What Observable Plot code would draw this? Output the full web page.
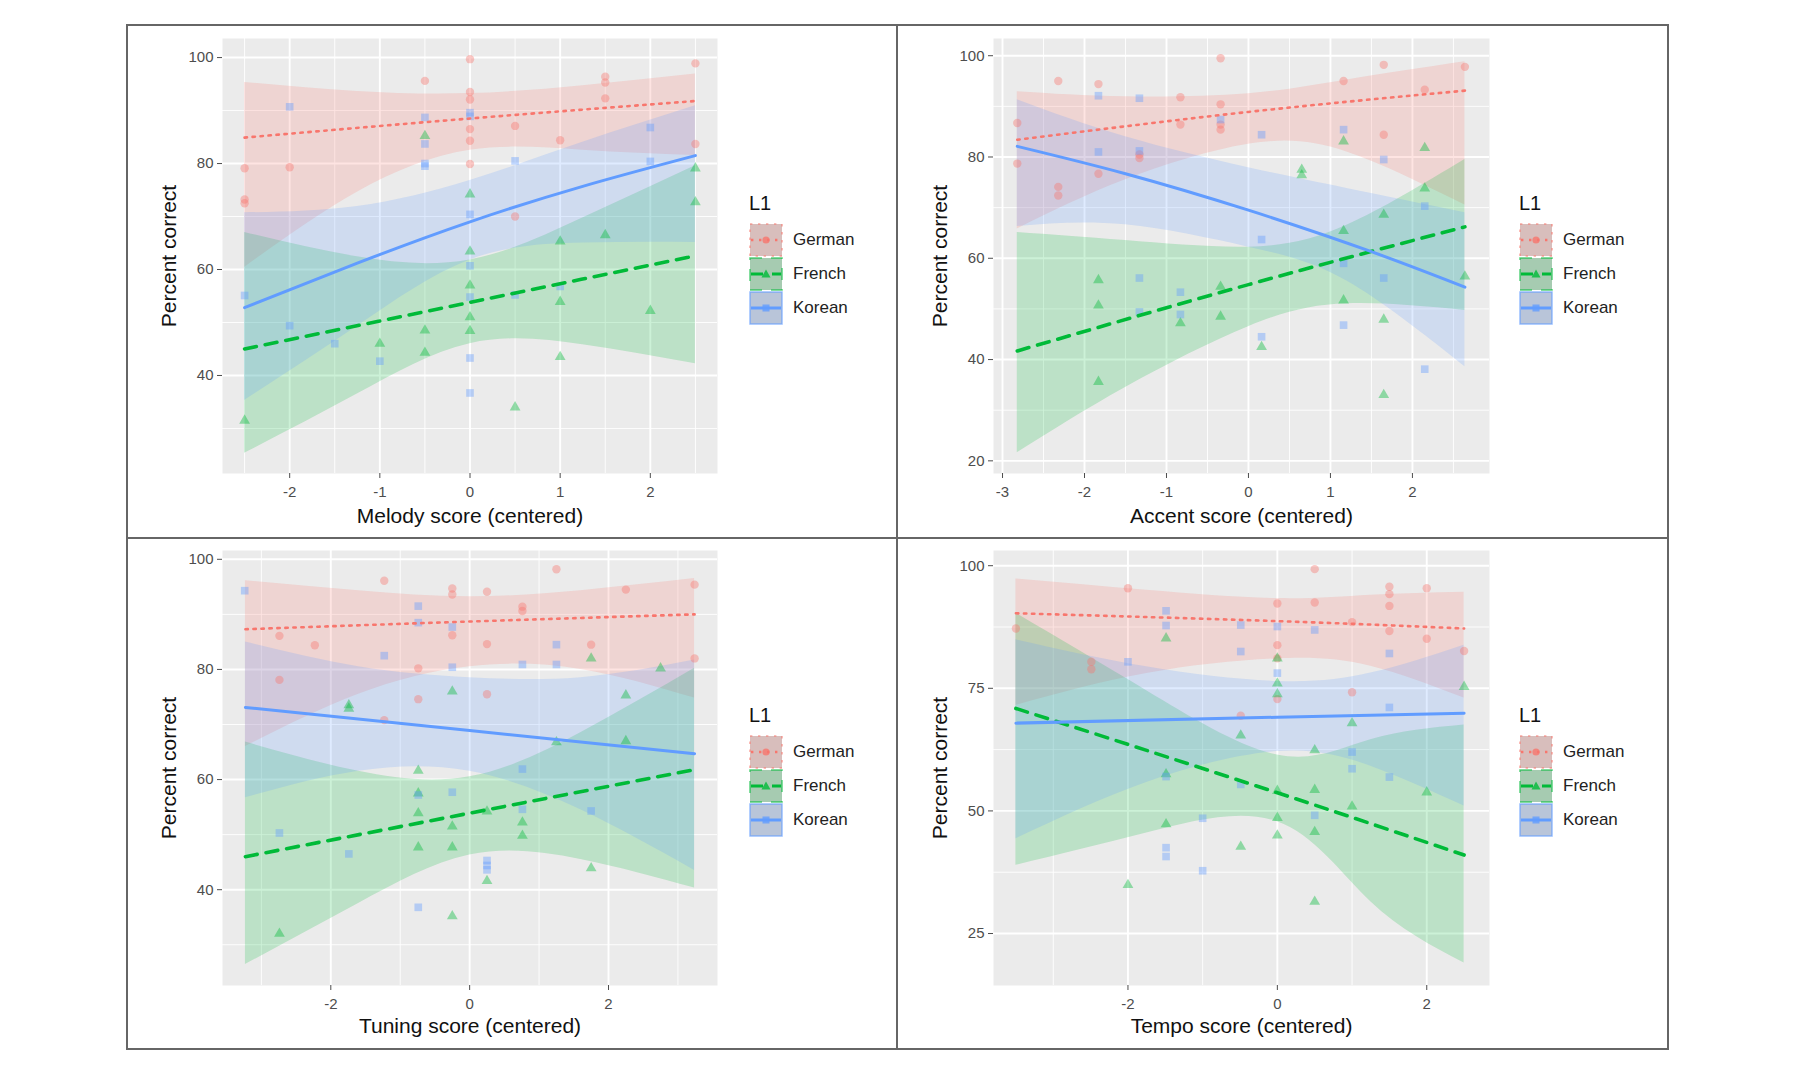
<!DOCTYPE html>
<html><head><meta charset="utf-8">
<script src="https://cdn.jsdelivr.net/npm/d3@7"></script>
<script src="https://cdn.jsdelivr.net/npm/@observablehq/plot@0.6"></script>
<style>
html,body{margin:0;padding:0;background:#fff;}
#page{position:relative;width:1800px;height:1071px;overflow:hidden;font-family:"Liberation Sans",Arial,Helvetica,sans-serif;}
.panel{position:absolute;}
.rule{position:absolute;background:#666;}
.legend{position:absolute;font-family:"Liberation Sans",Arial,Helvetica,sans-serif;}
</style></head><body><div id="page"></div>
<script>
// ---------- categories / styles ----------
const GROUPS = ["German", "French", "Korean"];
const COLORS = {German: "#F8766D", French: "#00BA38", Korean: "#619CFF"};
const SYMBOLS = {German: "circle", French: "triangle", Korean: "square"};

// ---------- Melody panel ----------
const melodyGermanPts = [[-2.5,79.1],[-2.5,73.2],[-2.5,72.5],[-2,79.3],[-0.5,95.6],[0,99.7],[0,93.5],[0,92.1],[0,86.5],[0,84.3],[0,79.9],[0.5,87.1],[0.5,70.0],[1,84.4],[1.5,96.4],[1.5,95.3],[1.5,92.3],[2.5,98.9],[2.5,83.7]];
const melodyKoreanPts = [[-2.5,55.1],[-2,90.7],[-2,49.4],[-1.5,46.0],[-1,42.7],[-0.5,88.7],[-0.5,83.7],[-0.5,80.0],[-0.5,79.5],[0,89.6],[0,88.9],[0,70.4],[0,60.7],[0,54.8],[0,43.3],[0,36.7],[0.5,80.5],[0.5,55.2],[1,56.8],[2,86.8],[2,80.4]];
const melodyFrenchPts = [[-2.5,31.5],[-1,46.0],[-0.5,85.2],[-0.5,48.5],[-0.5,44.3],[0,74.2],[0,63.4],[0,57.0],[0,51.0],[0,48.4],[0.5,34.0],[1,65.3],[1,53.9],[1,43.5],[1.5,66.5],[2,52.2],[2.5,79.1],[2.5,72.7]];
const melodyGermanLine = [[-2.5,84.9],[0,88.5],[2.5,91.8]];
const melodyFrenchLine = [[-2.5,45.0],[0,53.8],[2.5,62.6]];
const melodyKoreanLine = [[-2.5,52.8],[-1.25,61.2],[0,69.0],[1.25,75.7],[2.5,81.5]];
const melodyGermanBand = [[-2.5,60.4,95.3],[-1.25,74.6,93.6],[0,82.5,93.2],[1.25,82.5,94.7],[2.5,81.5,96.9]];
const melodyFrenchBand = [[-2.5,25.3,67.0],[-1.25,36.5,62.4],[0,46.0,61.8],[1.25,45.8,69.7],[2.5,42.2,79.6]];
const melodyKoreanBand = [[-2.5,35.3,70.7],[-1.25,49.3,71.9],[0,61.8,76.8],[1.25,65.0,84.0],[2.5,65.1,90.9]];
const melodyXTicks = [-2,-1,0,1,2];
const melodyXMinor = [-2.5,-1.5,-0.5,0.5,1.5,2.5];
const melodyYTicks = [40,60,80,100];
const melodyYMinor = [30,50,70,90];

// ---------- Accent panel ----------
const accentGermanPts = [[-2.82,86.7],[-2.82,78.7],[-2.32,95.0],[-2.32,74.1],[-2.32,72.4],[-1.83,94.4],[-1.83,76.7],[-1.33,80.5],[-1.33,79.8],[-0.83,91.8],[-0.83,86.4],[-0.34,99.5],[-0.34,90.4],[-0.34,86.4],[-0.34,85.4],[1.16,95.0],[1.65,98.2],[1.65,84.4],[2.15,93.3],[2.64,97.8]];
const accentKoreanPts = [[-1.83,92.1],[-1.83,81.0],[-1.33,91.6],[-1.33,81.2],[-1.33,56.1],[-1.33,49.4],[-0.83,53.3],[-0.83,48.9],[-0.34,87.4],[0.16,84.4],[0.16,63.7],[0.16,44.5],[1.16,85.4],[1.16,59.0],[1.16,46.8],[1.65,79.5],[1.65,56.1],[2.15,70.3],[2.15,38.1]];
const accentFrenchPts = [[-1.83,55.7],[-1.83,50.7],[-1.83,35.6],[-0.83,47.2],[-0.34,54.4],[-0.34,48.5],[0.16,42.5],[0.65,77.5],[0.65,76.4],[1.16,83.1],[1.16,65.4],[1.16,51.7],[1.65,68.6],[1.65,47.9],[1.65,33.0],[2.15,81.8],[2.15,73.8],[2.64,56.4]];
const accentGermanLine = [[-2.82,83.4],[0,88.9],[2.64,93.1]];
const accentFrenchLine = [[-2.82,41.7],[0,54.8],[2.64,66.2]];
const accentKoreanLine = [[-2.82,82.1],[-1.5,76.7],[0,69.5],[1.5,61.3],[2.64,54.3]];
const accentGermanBand = [[-2.82,65.8,92.9],[-1.5,75.5,91.9],[0,82.5,92.5],[1.2,81.0,95.2],[2.64,70.5,98.8]];
const accentFrenchBand = [[-2.82,21.6,65.1],[-1.5,34.5,63.5],[0,46.5,62.2],[1.2,51.0,66.5],[2.64,49.7,79.5]];
const accentKoreanBand = [[-2.82,66.3,91.3],[-1.5,66.6,84.0],[0,62.2,77.9],[1.2,55.5,73.8],[2.64,38.6,69.0]];
const accentXTicks = [-3,-2,-1,0,1,2];
const accentXMinor = [-2.5,-1.5,-0.5,0.5,1.5,2.5];
const accentYTicks = [20,40,60,80,100];
const accentYMinor = [30,50,70,90];

// ---------- Tuning panel ----------
const tuningGermanPts = [[-2.74,86.1],[-2.74,78.1],[-2.23,84.4],[-1.23,96.1],[-1.23,70.8],[-0.74,80.2],[-0.74,74.6],[-0.25,94.7],[-0.25,93.6],[-0.25,86.2],[0.25,94.1],[0.25,84.6],[0.25,75.5],[0.76,91.4],[0.76,90.6],[1.25,98.2],[1.75,84.5],[2.25,94.5],[3.24,95.4],[3.24,82.0]];
const tuningKoreanPts = [[-3.24,94.3],[-2.74,50.3],[-1.74,46.5],[-1.23,82.5],[-0.74,91.5],[-0.74,88.5],[-0.74,57.2],[-0.74,36.8],[-0.25,87.7],[-0.25,80.4],[-0.25,57.7],[0.25,45.3],[0.25,44.4],[0.25,43.6],[0.76,80.9],[0.76,61.9],[0.76,54.6],[1.25,84.5],[1.25,80.9],[1.75,54.3]];
const tuningFrenchPts = [[-2.74,32.0],[-1.74,73.5],[-1.74,72.9],[-0.74,61.6],[-0.74,57.5],[-0.74,53.9],[-0.74,47.7],[-0.25,76.0],[-0.25,51.5],[-0.25,47.7],[-0.25,35.2],[0.25,54.2],[0.25,41.6],[0.76,52.2],[0.76,49.8],[1.25,66.8],[1.75,82.0],[1.75,43.9],[2.25,75.3],[2.25,67.0],[2.75,80.2]];
const tuningGermanLine = [[-3.23,87.3],[0,88.7],[3.24,90.0]];
const tuningFrenchLine = [[-3.23,46.0],[0,53.9],[3.24,61.8]];
const tuningKoreanLine = [[-3.23,73.1],[0,68.9],[3.24,64.7]];
const tuningGermanBand = [[-3.23,66.0,96.1],[-1.6,75.5,94.3],[0,80.5,93.2],[1.6,80.0,94.3],[3.24,74.8,96.5]];
const tuningFrenchBand = [[-3.23,26.4,66.8],[-1.6,37.5,61.5],[0,46.3,60.5],[1.6,45.5,68.5],[3.24,40.3,80.2]];
const tuningKoreanBand = [[-3.23,56.7,85.0],[-1.6,61.5,80.5],[0,61.5,78.5],[1.6,54.5,78.5],[3.24,43.5,81.7]];
const tuningXTicks = [-2,0,2];
const tuningXMinor = [-3,-1,1,3];
const tuningYTicks = [40,60,80,100];
const tuningYMinor = [30,50,70,90];

// ---------- Tempo panel ----------
const tempoGermanPts = [[-3.5,87.2],[-2.49,80.4],[-2.49,78.9],[-2,95.4],[-0.49,69.4],[0,92.3],[0,83.8],[0,81.1],[0,72.8],[0.5,99.3],[0.5,92.5],[1,88.5],[1,74.2],[1.5,95.7],[1.5,94.2],[1.5,91.8],[1.5,86.7],[2,95.4],[2,85.1],[2.5,82.6]];
const tempoKoreanPts = [[-2,80.4],[-1.49,90.8],[-1.49,87.8],[-1.49,57.0],[-1.49,42.5],[-1.49,40.7],[-1,48.5],[-1,37.8],[-0.49,87.9],[-0.49,82.5],[-0.49,55.4],[0,87.6],[0,78.1],[0.5,86.9],[0.5,49.1],[1,62.0],[1,58.6],[1.5,82.1],[1.5,71.1],[1.5,56.9]];
const tempoFrenchPts = [[-2,34.9],[-1.49,85.2],[-1.49,57.5],[-1.49,47.3],[-0.49,65.4],[-0.49,42.7],[0,81.1],[0,76.0],[0,73.8],[0,54.1],[0,48.6],[0,45.0],[0.5,62.4],[0.5,54.3],[0.5,45.7],[0.5,31.5],[1,67.9],[1,50.9],[2,53.8],[2.5,75.3]];
const tempoGermanLine = [[-3.5,90.3],[0,88.7],[2.5,87.2]];
const tempoFrenchLine = [[-3.5,70.9],[0,53.7],[2.5,41.0]];
const tempoKoreanLine = [[-3.5,67.9],[0,69.1],[2.5,69.9]];
const tempoGermanBand = [[-3.5,71.5,97.3],[-1.75,78.0,95.0],[0,81.0,93.3],[1.25,79.5,94.0],[2.5,73.0,94.6]];
const tempoFrenchBand = [[-3.5,38.9,90.3],[-1.75,45.5,74.5],[0,47.8,61.4],[1.25,31.5,64.5],[2.5,19.0,67.5]];
const tempoKoreanBand = [[-3.5,44.3,84.9],[-1.75,55.8,79.4],[0,62.1,76.4],[1.25,59.1,78.1],[2.5,51.0,83.8]];
const tempoXTicks = [-2,0,2];
const tempoXMinor = [-3,-1,1];
const tempoYTicks = [25,50,75,100];
const tempoYMinor = [37.5,62.5,87.5];

// ---------- drawing ----------
const page = document.getElementById("page");
const FONT = '"Liberation Sans", Arial, Helvetica, sans-serif';
const LINESTYLE = {
  German: {strokeWidth: 2.6, strokeDasharray: "2.4,5.6"},
  French: {strokeWidth: 3.6, strokeDasharray: "12,9"},
  Korean: {strokeWidth: 3, strokeDasharray: null}
};
const RADIUS = {German: 4.2, French: 4.0, Korean: 4.3};

function drawPanel(cfg) {
  const marks = [
    Plot.frame({fill: "#EBEBEB", stroke: "none"}),
    Plot.gridY(cfg.yMinor, {stroke: "#fff", strokeOpacity: 1, strokeWidth: 0.9}),
    Plot.gridX(cfg.xMinor, {stroke: "#fff", strokeOpacity: 1, strokeWidth: 0.9}),
    Plot.gridY(cfg.yTicks, {stroke: "#fff", strokeOpacity: 1, strokeWidth: 1.9}),
    Plot.gridX(cfg.xTicks, {stroke: "#fff", strokeOpacity: 1, strokeWidth: 1.9})
  ];
  for (const g of GROUPS) {
    marks.push(Plot.areaY(cfg.bands[g], {x: d => d[0], y1: d => d[1], y2: d => d[2],
      fill: COLORS[g], fillOpacity: 0.2, curve: "natural"}));
  }
  for (const g of GROUPS) {
    marks.push(Plot.dot(cfg.pts[g], {x: d => d[0], y: d => d[1], symbol: SYMBOLS[g], r: RADIUS[g],
      fill: COLORS[g], fillOpacity: 0.4, stroke: "none"}));
  }
  for (const g of GROUPS) {
    const ls = LINESTYLE[g];
    const o = {x: d => d[0], y: d => d[1], stroke: COLORS[g], strokeWidth: ls.strokeWidth, curve: "natural"};
    if (ls.strokeDasharray) o.strokeDasharray = ls.strokeDasharray;
    marks.push(Plot.line(cfg.lines[g], o));
  }
  marks.push(Plot.axisX({ticks: cfg.xTicks, tickSize: 5, tickPadding: 8, fontSize: 15,
    color: "#4D4D4D", label: null, tickFormat: d => String(d)}));
  marks.push(Plot.axisY({ticks: cfg.yTicks, tickSize: 5, tickPadding: 4, fontSize: 15,
    color: "#4D4D4D", label: null, tickFormat: d => String(d)}));
  marks.push(Plot.text([cfg.xLabel], {text: d => d, frameAnchor: "bottom", dy: cfg.titleDy,
    lineAnchor: "top", textAnchor: "middle", fontSize: 21, fill: "#111"}));
  marks.push(Plot.text(["Percent correct"], {text: d => d, frameAnchor: "left", dx: -53,
    rotate: -90, lineAnchor: "middle", textAnchor: "middle", fontSize: 21, fill: "#111"}));

  const chart = Plot.plot({
    width: cfg.width, height: cfg.height,
    marginLeft: cfg.ml, marginRight: cfg.mr, marginTop: cfg.mt, marginBottom: cfg.mb,
    x: {domain: cfg.xDomain},
    y: {domain: cfg.yDomain},
    style: {fontFamily: FONT, background: "transparent", overflow: "visible"},
    marks
  });
  chart.classList.add("panel");
  chart.style.left = cfg.left + "px";
  chart.style.top = cfg.top + "px";
  page.appendChild(chart);
}

function keySvg(g) {
  const c = COLORS[g];
  const ls = LINESTYLE[g];
  const dash = ls.strokeDasharray ? `stroke-dasharray="${ls.strokeDasharray}"` : "";
  let sym;
  if (g === "German") sym = `<circle cx="17" cy="17" r="3.6" fill="${c}" fill-opacity="0.8"/>`;
  else if (g === "French") sym = `<polygon points="17,12.5 21.5,20.5 12.5,20.5" fill="${c}" fill-opacity="0.8"/>`;
  else sym = `<rect x="13.5" y="13.5" width="7" height="7" fill="${c}" fill-opacity="0.8"/>`;
  return `<svg width="34" height="34" style="display:block">
    <rect x="1" y="1" width="32" height="32" fill="#D0D0D0"/>
    <rect x="1" y="1" width="32" height="32" fill="${c}" fill-opacity="0.2" stroke="${c}" stroke-opacity="0.65" stroke-width="1.5" ${dash}/>
    <line x1="2" x2="32" y1="17" y2="17" stroke="${c}" stroke-width="${Math.min(ls.strokeWidth, 3)}" ${dash}/>
    ${sym}</svg>`;
}

function drawLegend(left, top) {
  const div = document.createElement("div");
  div.className = "legend";
  div.style.left = left + "px";
  div.style.top = top + "px";
  let html = `<div style="font-size:20px;line-height:20px;height:30px;color:#111">L1</div>`;
  for (const g of GROUPS) {
    html += `<div style="display:flex;align-items:center;height:34px">${keySvg(g)}<span style="margin-left:10px;font-size:17px;color:#222">${g}</span></div>`;
  }
  div.innerHTML = html;
  page.appendChild(div);
}

function rule(l, t, w, h) {
  const d = document.createElement("div");
  d.className = "rule";
  Object.assign(d.style, {left: l + "px", top: t + "px", width: w + "px", height: h + "px"});
  page.appendChild(d);
}

// outer frame and dividers
rule(126, 24, 1543, 2);
rule(126, 1048, 1543, 2);
rule(126, 24, 2, 1026);
rule(1667, 24, 2, 1026);
rule(896, 24, 2, 1026);
rule(126, 537, 1543, 2);

drawPanel({
  left: 128, top: 25, width: 599, height: 515, ml: 94, mr: 10, mt: 13, mb: 67, titleDy: 35,
  xDomain: [-2.745, 2.745], yDomain: [21.5, 103.6],
  xTicks: melodyXTicks, xMinor: melodyXMinor, yTicks: melodyYTicks, yMinor: melodyYMinor,
  xLabel: "Melody score (centered)",
  pts: {German: melodyGermanPts, French: melodyFrenchPts, Korean: melodyKoreanPts},
  lines: {German: melodyGermanLine, French: melodyFrenchLine, Korean: melodyKoreanLine},
  bands: {German: melodyGermanBand, French: melodyFrenchBand, Korean: melodyKoreanBand}
});
drawPanel({
  left: 899, top: 25, width: 600, height: 515, ml: 94, mr: 10, mt: 13, mb: 67, titleDy: 35,
  xDomain: [-3.11, 2.94], yDomain: [17.5, 103.4],
  xTicks: accentXTicks, xMinor: accentXMinor, yTicks: accentYTicks, yMinor: accentYMinor,
  xLabel: "Accent score (centered)",
  pts: {German: accentGermanPts, French: accentFrenchPts, Korean: accentKoreanPts},
  lines: {German: accentGermanLine, French: accentFrenchLine, Korean: accentKoreanLine},
  bands: {German: accentGermanBand, French: accentFrenchBand, Korean: accentKoreanBand}
});
drawPanel({
  left: 128, top: 538, width: 599, height: 515, ml: 94, mr: 10, mt: 12, mb: 68, titleDy: 33,
  xDomain: [-3.56, 3.57], yDomain: [22.6, 101.6],
  xTicks: tuningXTicks, xMinor: tuningXMinor, yTicks: tuningYTicks, yMinor: tuningYMinor,
  xLabel: "Tuning score (centered)",
  pts: {German: tuningGermanPts, French: tuningFrenchPts, Korean: tuningKoreanPts},
  lines: {German: tuningGermanLine, French: tuningFrenchLine, Korean: tuningKoreanLine},
  bands: {German: tuningGermanBand, French: tuningFrenchBand, Korean: tuningKoreanBand}
});
drawPanel({
  left: 899, top: 538, width: 600, height: 515, ml: 94, mr: 10, mt: 12, mb: 68, titleDy: 33,
  xDomain: [-3.8, 2.84], yDomain: [14.4, 103.1],
  xTicks: tempoXTicks, xMinor: tempoXMinor, yTicks: tempoYTicks, yMinor: tempoYMinor,
  xLabel: "Tempo score (centered)",
  pts: {German: tempoGermanPts, French: tempoFrenchPts, Korean: tempoKoreanPts},
  lines: {German: tempoGermanLine, French: tempoFrenchLine, Korean: tempoKoreanLine},
  bands: {German: tempoGermanBand, French: tempoFrenchBand, Korean: tempoKoreanBand}
});

drawLegend(749, 193);
drawLegend(1519, 193);
drawLegend(749, 705);
drawLegend(1519, 705);
</script></body></html>
